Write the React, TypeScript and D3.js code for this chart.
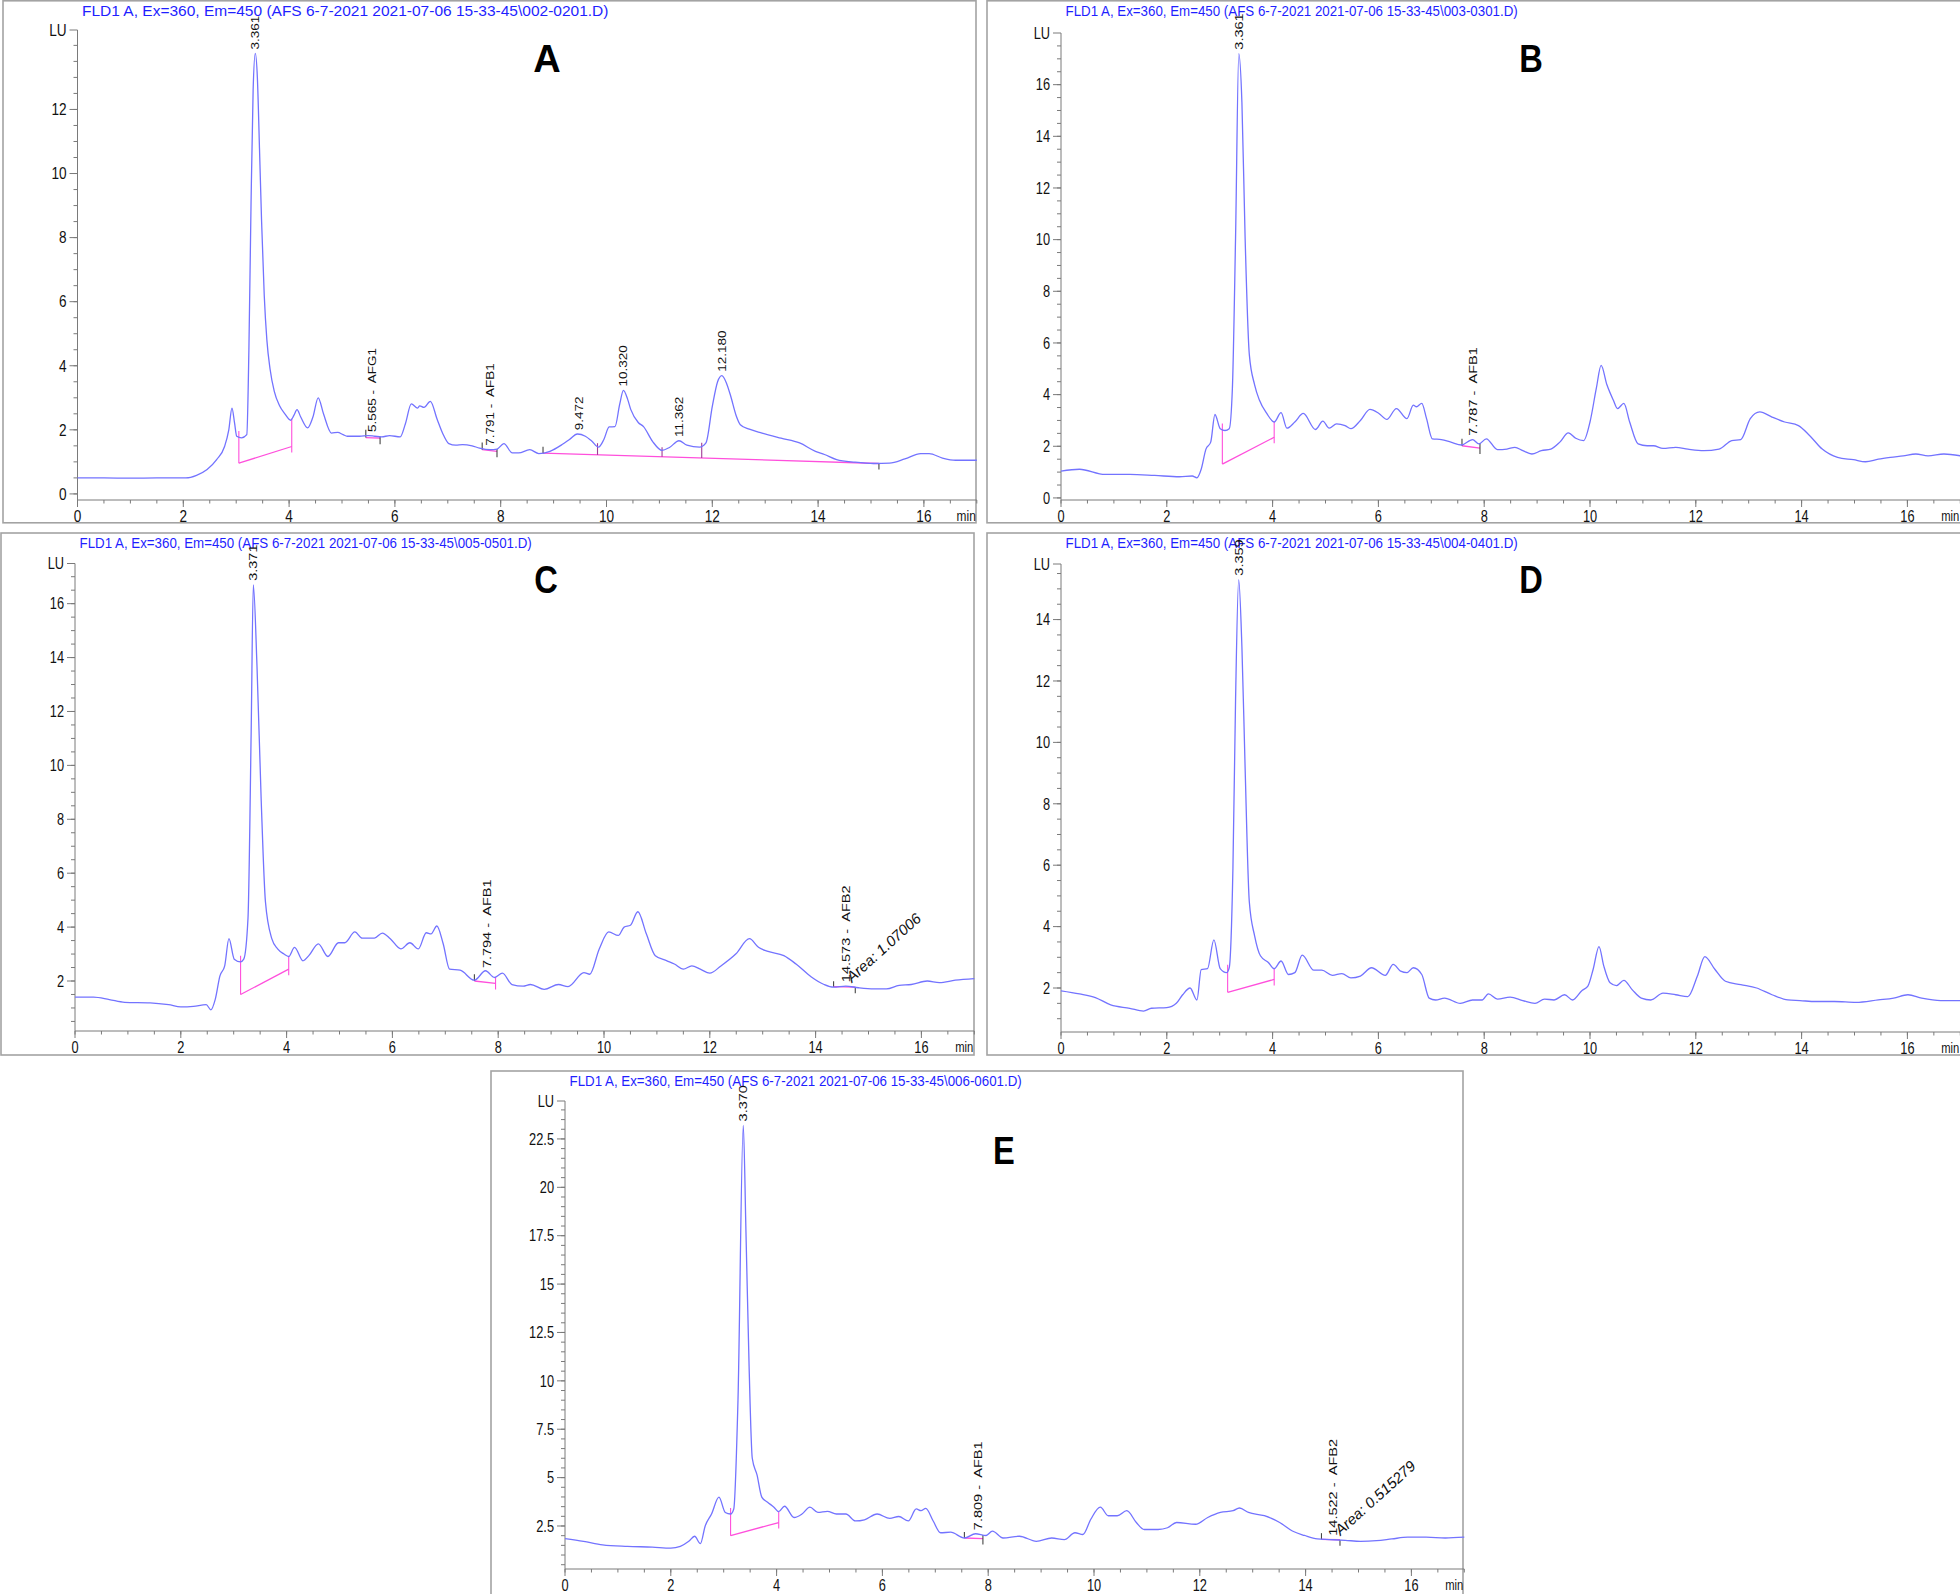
import React from 'react'
import * as d3 from 'd3'

// ---- data: retention time (min) and signal (LU) per run ----
const timeA = [0, 0.5, 1.0, 1.5, 2.05, 2.25, 2.45, 2.63, 2.78, 2.86, 2.92, 2.97, 3.01, 3.1, 3.2, 3.24, 3.28, 3.32, 3.361, 3.4, 3.44, 3.48, 3.53, 3.58, 3.64, 3.72, 3.82, 3.92, 4.03, 4.09, 4.15, 4.22, 4.35, 4.45, 4.55, 4.65, 4.8, 4.92, 5.02, 5.1, 5.33, 5.5, 5.62, 5.75, 5.9, 6.1, 6.2, 6.31, 6.43, 6.47, 6.55, 6.67, 6.8, 6.9, 7.02, 7.15, 7.28, 7.46, 7.6, 7.8, 7.93, 8.06, 8.22, 8.34, 8.55, 8.72, 8.93, 9.16, 9.3, 9.45, 9.6, 9.72, 9.85, 9.95, 10.05, 10.16, 10.25, 10.32, 10.4, 10.46, 10.6, 10.7, 10.87, 11.05, 11.19, 11.37, 11.52, 11.76, 11.88, 12.0, 12.1, 12.18, 12.27, 12.35, 12.45, 12.53, 12.7, 12.94, 13.3, 13.65, 13.95, 14.12, 14.35, 14.7, 15.05, 15.35, 15.64, 15.94, 16.1, 16.35, 16.6, 17.0]
const luA = [0.5, 0.5, 0.49, 0.5, 0.5, 0.58, 0.76, 1.07, 1.48, 2.0, 2.68, 2.2, 1.8, 1.75, 1.85, 4.5, 9.0, 12.6, 13.75, 13.0, 10.8, 8.5, 6.2, 4.8, 3.9, 3.2, 2.75, 2.5, 2.3, 2.45, 2.63, 2.4, 2.06, 2.4, 3.0, 2.5, 1.9, 1.92, 1.85, 1.8, 1.8, 1.82, 1.8, 1.78, 1.82, 1.78, 2.2, 2.81, 2.68, 2.75, 2.7, 2.89, 2.32, 1.9, 1.57, 1.52, 1.54, 1.5, 1.43, 1.38, 1.4, 1.57, 1.28, 1.28, 1.38, 1.26, 1.33, 1.54, 1.7, 1.87, 1.8, 1.65, 1.46, 1.7, 2.09, 2.1, 2.8, 3.23, 2.95, 2.63, 2.23, 2.1, 1.64, 1.36, 1.45, 1.66, 1.52, 1.46, 1.59, 2.73, 3.5, 3.69, 3.45, 3.04, 2.45, 2.16, 2.02, 1.9, 1.74, 1.59, 1.33, 1.23, 1.07, 0.99, 0.95, 0.96, 1.09, 1.26, 1.26, 1.12, 1.05, 1.05]

const timeB = [0, 0.35, 0.83, 1.3, 1.77, 2.24, 2.48, 2.57, 2.65, 2.74, 2.83, 2.91, 3.01, 3.1, 3.18, 3.24, 3.3, 3.361, 3.42, 3.48, 3.56, 3.66, 3.75, 3.89, 4.03, 4.16, 4.27, 4.42, 4.58, 4.81, 4.95, 5.07, 5.21, 5.37, 5.48, 5.66, 5.84, 6.01, 6.16, 6.34, 6.54, 6.66, 6.72, 6.82, 6.91, 7.02, 7.19, 7.37, 7.57, 7.78, 7.9, 8.04, 8.25, 8.43, 8.58, 8.73, 8.9, 9.08, 9.26, 9.43, 9.59, 9.73, 9.88, 10.0, 10.12, 10.21, 10.32, 10.44, 10.52, 10.64, 10.75, 10.91, 11.08, 11.2, 11.38, 11.62, 11.85, 12.15, 12.44, 12.68, 12.85, 13.03, 13.21, 13.44, 13.68, 13.94, 14.15, 14.39, 14.68, 14.98, 15.21, 15.45, 15.68, 15.92, 16.16, 16.39, 16.69, 17.0]
const luB = [1.04, 1.11, 0.91, 0.91, 0.87, 0.82, 0.85, 0.78, 1.11, 1.89, 2.16, 3.23, 2.68, 2.61, 2.68, 4.25, 10.1, 17.2, 15.3, 10.1, 5.55, 4.38, 3.79, 3.27, 2.94, 3.3, 2.7, 2.94, 3.27, 2.65, 2.97, 2.7, 2.87, 2.8, 2.68, 3.0, 3.43, 3.27, 3.04, 3.46, 3.07, 3.59, 3.53, 3.66, 3.07, 2.29, 2.26, 2.16, 2.05, 2.26, 2.09, 2.29, 1.87, 1.89, 1.96, 1.83, 1.7, 1.83, 1.89, 2.16, 2.52, 2.31, 2.22, 2.94, 4.25, 5.13, 4.38, 3.79, 3.46, 3.66, 2.94, 2.09, 2.02, 2.02, 1.92, 1.96, 1.89, 1.83, 1.89, 2.22, 2.26, 3.07, 3.33, 3.13, 2.94, 2.8, 2.42, 1.89, 1.57, 1.48, 1.4, 1.5, 1.57, 1.63, 1.7, 1.63, 1.7, 1.63]

const timeC = [0, 0.35, 0.65, 0.94, 1.42, 1.77, 2.0, 2.24, 2.48, 2.57, 2.65, 2.74, 2.83, 2.91, 3.01, 3.13, 3.19, 3.27, 3.33, 3.371, 3.44, 3.52, 3.6, 3.72, 3.83, 3.95, 4.04, 4.15, 4.31, 4.42, 4.6, 4.78, 4.98, 5.1, 5.29, 5.43, 5.66, 5.81, 5.96, 6.16, 6.33, 6.49, 6.64, 6.73, 6.84, 6.96, 7.08, 7.28, 7.55, 7.76, 7.93, 8.08, 8.26, 8.47, 8.61, 8.87, 9.14, 9.32, 9.62, 9.73, 9.91, 10.09, 10.27, 10.38, 10.5, 10.64, 10.8, 10.97, 11.19, 11.33, 11.5, 11.66, 11.82, 12.0, 12.21, 12.49, 12.75, 12.92, 13.1, 13.4, 13.63, 13.92, 14.16, 14.34, 14.57, 14.81, 15.1, 15.34, 15.58, 15.81, 16.11, 16.34, 16.64, 17.0]
const luC = [1.4, 1.4, 1.31, 1.21, 1.19, 1.12, 1.04, 1.06, 1.12, 0.93, 1.31, 2.19, 2.56, 3.57, 2.81, 2.71, 2.81, 4.32, 11.2, 16.7, 13.7, 8.7, 4.94, 3.57, 3.19, 3.0, 2.91, 3.25, 2.75, 2.94, 3.38, 2.91, 3.42, 3.42, 3.82, 3.59, 3.59, 3.78, 3.57, 3.19, 3.42, 3.19, 3.79, 3.75, 4.04, 3.38, 2.44, 2.4, 2.03, 2.38, 2.13, 2.29, 1.87, 1.81, 1.87, 1.69, 1.87, 1.79, 2.31, 2.25, 3.19, 3.82, 3.69, 4.0, 4.07, 4.57, 3.75, 2.94, 2.75, 2.63, 2.44, 2.56, 2.44, 2.29, 2.56, 3.0, 3.57, 3.25, 3.1, 2.94, 2.63, 2.15, 1.87, 1.77, 1.81, 1.75, 1.71, 1.71, 1.84, 1.87, 2.0, 1.94, 2.03, 2.09]

const timeD = [0, 0.35, 0.65, 0.94, 1.3, 1.56, 1.71, 2.0, 2.18, 2.3, 2.44, 2.57, 2.65, 2.77, 2.89, 3.01, 3.13, 3.18, 3.25, 3.3, 3.359, 3.42, 3.48, 3.56, 3.66, 3.77, 3.92, 4.03, 4.16, 4.3, 4.42, 4.56, 4.78, 4.93, 5.13, 5.31, 5.48, 5.66, 5.87, 6.13, 6.28, 6.42, 6.54, 6.66, 6.82, 6.96, 7.08, 7.25, 7.55, 7.78, 7.96, 8.08, 8.25, 8.49, 8.73, 8.96, 9.14, 9.32, 9.52, 9.67, 9.85, 9.96, 10.06, 10.17, 10.26, 10.38, 10.5, 10.64, 10.8, 10.97, 11.15, 11.38, 11.62, 11.85, 12.03, 12.17, 12.36, 12.56, 12.85, 13.15, 13.44, 13.74, 13.97, 14.27, 14.62, 15.03, 15.45, 15.74, 16.01, 16.27, 16.63, 17.0]
const luD = [1.91, 1.81, 1.69, 1.45, 1.34, 1.25, 1.34, 1.36, 1.5, 1.78, 2.0, 1.61, 2.6, 2.63, 3.57, 2.63, 2.5, 2.66, 5.9, 11.4, 15.3, 13.1, 9.2, 4.8, 3.7, 3.05, 2.83, 2.63, 2.88, 2.44, 2.5, 3.07, 2.58, 2.58, 2.41, 2.47, 2.33, 2.39, 2.66, 2.41, 2.77, 2.55, 2.5, 2.66, 2.44, 1.67, 1.61, 1.67, 1.5, 1.61, 1.61, 1.81, 1.64, 1.7, 1.59, 1.5, 1.64, 1.61, 1.78, 1.61, 1.92, 2.06, 2.61, 3.35, 2.72, 2.17, 2.08, 2.25, 1.94, 1.67, 1.61, 1.83, 1.78, 1.72, 2.39, 3.02, 2.61, 2.22, 2.11, 2.0, 1.78, 1.61, 1.59, 1.56, 1.56, 1.53, 1.61, 1.67, 1.78, 1.67, 1.59, 1.59]

const timeE = [0, 0.35, 0.71, 1.18, 1.65, 2.0, 2.18, 2.34, 2.45, 2.56, 2.65, 2.77, 2.91, 3.03, 3.13, 3.19, 3.27, 3.37, 3.42, 3.48, 3.54, 3.63, 3.72, 3.83, 3.95, 4.04, 4.15, 4.33, 4.48, 4.63, 4.78, 4.96, 5.13, 5.31, 5.49, 5.66, 5.9, 6.14, 6.31, 6.49, 6.64, 6.73, 6.82, 6.96, 7.1, 7.29, 7.55, 7.76, 7.96, 8.08, 8.28, 8.59, 8.91, 9.2, 9.44, 9.64, 9.79, 9.94, 10.12, 10.27, 10.44, 10.62, 10.8, 10.95, 11.21, 11.39, 11.56, 11.92, 12.15, 12.39, 12.63, 12.75, 12.92, 13.22, 13.51, 13.75, 13.98, 14.22, 14.45, 14.75, 15.04, 15.34, 15.63, 15.93, 16.28, 16.64, 17.0]
const luE = [1.85, 1.71, 1.53, 1.45, 1.41, 1.36, 1.45, 1.71, 1.97, 1.59, 2.5, 3.12, 3.99, 3.2, 3.12, 3.38, 9.0, 23.2, 17.8, 10.76, 6.0, 5.14, 3.99, 3.73, 3.47, 3.24, 3.52, 2.94, 3.12, 3.47, 3.2, 3.26, 3.12, 3.12, 2.76, 2.82, 3.12, 2.89, 2.99, 2.76, 3.38, 3.29, 3.41, 2.76, 2.15, 2.18, 1.88, 2.1, 2.01, 2.24, 1.88, 1.97, 1.71, 1.88, 1.8, 2.15, 2.06, 2.85, 3.47, 3.03, 3.03, 3.29, 2.68, 2.32, 2.32, 2.41, 2.68, 2.59, 2.94, 3.2, 3.29, 3.43, 3.2, 3.03, 2.68, 2.24, 2.01, 1.83, 1.8, 1.76, 1.71, 1.74, 1.83, 1.92, 1.92, 1.88, 1.92]

// peak annotations: [retention time, label]
const peaksA: [number, string][] = [[3.361, '3.361'], [5.565, '5.565 -  AFG1'], [7.791, '7.791 -  AFB1'], [9.472, '9.472'], [10.32, '10.320'], [11.362, '11.362'], [12.18, '12.180']]
const peaksB: [number, string][] = [[3.361, '3.361'], [7.787, '7.787 -  AFB1']]
const peaksC: [number, string][] = [[3.371, '3.371'], [7.794, '7.794 -  AFB1'], [14.573, '14.573 -  AFB2']]
const peaksD: [number, string][] = [[3.359, '3.359']]
const peaksE: [number, string][] = [[3.37, '3.370'], [7.809, '7.809 -  AFB1'], [14.522, '14.522 -  AFB2']]

// area notes: [time, text]
const areaC: [number, string][] = [[14.69, 'Area: 1.07006']]
const areaE: [number, string][] = [[14.66, 'Area: 0.515279']]

// integration baselines: [t1, v1, t2, v2]
const baseA = [[3.05, 0.96, 4.05, 1.48], [5.45, 1.76, 5.72, 1.74], [7.65, 1.38, 7.93, 1.33], [8.8, 1.27, 15.15, 0.95]]
const baseB = [[3.05, 1.31, 4.03, 2.35], [7.58, 2.02, 7.92, 1.93]]
const baseC = [[3.13, 1.5, 4.04, 2.44], [7.55, 2.0, 7.95, 1.91], [14.34, 1.79, 14.75, 1.77]]
const baseD = [[3.15, 1.86, 4.03, 2.28]]
const baseE = [[3.13, 2.0, 4.04, 2.68], [7.55, 1.88, 7.9, 1.85], [14.3, 1.81, 14.65, 1.79]]
// drop lines from the trace down to a baseline (times)
const dropA = [9.83, 11.05, 11.8]

const yLabelsA = [0, 2, 4, 6, 8, 10, 12]
const yLabelsB = [0, 2, 4, 6, 8, 10, 12, 14, 16]
const yLabelsC = [2, 4, 6, 8, 10, 12, 14, 16]
const yLabelsD = [2, 4, 6, 8, 10, 12, 14]
const yLabelsE = [2.5, 5, 7.5, 10, 12.5, 15, 17.5, 20, 22.5]
const xLabels = [0, 2, 4, 6, 8, 10, 12, 14, 16]

const TITLE = 'FLD1 A, Ex=360, Em=450 (AFS 6-7-2021 2021-07-06 15-33-45\\'
const FONT = "'Liberation Sans', Arial, sans-serif"
const TRACE = '#7373ff'
const BASE = '#ff4fdc'
const AXIS = '#7a7a7a'

interface PanelProps {
  letter: string
  file: string
  box: [number, number, number, number]
  x0: number
  axisY: number
  topY: number
  yDom: [number, number]
  yLabels: number[]
  times: number[]
  values: number[]
  peaks: [number, string][]
  areas?: [number, string][]
  bases: number[][]
  drops?: number[]
  letterPos: [number, number]
  squeeze: number      // horizontal text squeeze of the scanned panel
  titleSqueeze: number
  peakSize: number
}

const PX_PER_MIN = 52.9

function valueAt(times: number[], values: number[], t: number) {
  const i = Math.max(1, Math.min(times.length - 1, d3.bisectLeft(times, t)))
  const t0 = times[i - 1], t1 = times[i]
  const f = (t - t0) / (t1 - t0)
  return values[i - 1] + (values[i] - values[i - 1]) * f
}

// text drawn with a horizontal squeeze around its anchor point
function SText({ x, y, sx, size, anchor = 'start', children, fill = '#111', weight }: {
  x: number, y: number, sx: number, size: number, anchor?: string, children: React.ReactNode, fill?: string, weight?: string
}) {
  return (
    <text transform={`translate(${x},${y}) scale(${sx},1)`} dy="0.36em" textAnchor={anchor}
      fontFamily={FONT} fontSize={size} fill={fill} fontWeight={weight}>{children}</text>
  )
}

function Panel(p: PanelProps) {
  const x = d3.scaleLinear().domain([0, 17]).range([p.x0, p.x0 + 17 * PX_PER_MIN])
  const y = d3.scaleLinear().domain(p.yDom).range([p.axisY, p.topY])
  const pts = p.times.map((t, i) => [t, p.values[i]] as [number, number])
  const line = d3.line<[number, number]>().x(d => x(d[0])).y(d => y(d[1])).curve(d3.curveMonotoneX)

  const yMinor = d3.range(Math.ceil(p.yDom[0] * 2) / 2, p.yDom[1] - 0.05, 0.5)
  const xMinor = d3.range(0, 17.01, 0.5)
  const [bx, by, bw, bh] = p.box
  const xEnd = x(17)
  const sq = p.squeeze

  return (
    <g>
      <rect x={bx} y={by} width={bw} height={bh} fill="white" stroke="#a3a3a3" strokeWidth={1.6} />
      <text transform={`translate(${p.x0 + 4.5},${by + 15}) scale(${p.titleSqueeze},1)`}
        fontFamily={FONT} fontSize={15.5} fill="#1f1fff">{TITLE + p.file + ')'}</text>
      <text transform={`translate(${p.letterPos[0]},${p.letterPos[1]}) scale(${p.titleSqueeze},1)`} textAnchor="middle"
        fontFamily={FONT} fontSize={38} fontWeight="bold" fill="#000">{p.letter}</text>

      {/* y axis */}
      <line x1={p.x0} x2={p.x0} y1={p.topY} y2={p.axisY} stroke={AXIS} />
      <line x1={p.x0 - 8} x2={p.x0} y1={p.topY} y2={p.topY} stroke={AXIS} />
      <SText x={p.x0 - 11} y={p.topY} sx={sq} size={16} anchor="end">LU</SText>
      {yMinor.map(v => (
        <line key={'ym' + v} x1={p.x0 - 4} x2={p.x0} y1={y(v)} y2={y(v)} stroke={AXIS} />
      ))}
      {p.yLabels.map(v => (
        <g key={'yl' + v}>
          <line x1={p.x0 - 8} x2={p.x0} y1={y(v)} y2={y(v)} stroke={AXIS} />
          <SText x={p.x0 - 11} y={y(v)} sx={sq} size={16} anchor="end">{v}</SText>
        </g>
      ))}

      {/* x axis */}
      <line x1={p.x0} x2={xEnd} y1={p.axisY} y2={p.axisY} stroke={AXIS} />
      {xMinor.map(v => (
        <line key={'xm' + v} x1={x(v)} x2={x(v)} y1={p.axisY} y2={p.axisY + 3.5} stroke={AXIS} />
      ))}
      {xLabels.map(v => (
        <g key={'xl' + v}>
          <line x1={x(v)} x2={x(v)} y1={p.axisY} y2={p.axisY + 7} stroke={AXIS} />
          <SText x={x(v)} y={p.axisY + 16} sx={sq} size={16} anchor="middle">{v}</SText>
        </g>
      ))}
      <SText x={xEnd - 1} y={p.axisY + 16} sx={sq} size={14} anchor="end">min</SText>

      {/* integration baselines */}
      {p.bases.map((b, i) => {
        const topStart = valueAt(p.times, p.values, b[0])
        const topEnd = valueAt(p.times, p.values, b[2])
        return (
          <g key={'b' + i}>
            <line x1={x(b[0])} x2={x(b[2])} y1={y(b[1])} y2={y(b[3])} stroke={BASE} strokeWidth={1.3} />
            <line x1={x(b[0])} x2={x(b[0])} y1={y(topStart) - 6} y2={y(b[1])} stroke={topStart - b[1] > 0.2 ? BASE : '#444'} strokeWidth={1.1} />
            <line x1={x(b[2])} x2={x(b[2])} y1={y(topEnd)} y2={y(b[3]) + 6} stroke={topEnd - b[3] > 0.2 ? BASE : '#444'} strokeWidth={1.1} />
          </g>
        )
      })}
      {(p.drops || []).map(t => {
        const b = p.bases.find(s => s[0] <= t && s[2] >= t)!
        const v0 = b[1] + (b[3] - b[1]) * (t - b[0]) / (b[2] - b[0])
        return <line key={'d' + t} x1={x(t)} x2={x(t)} y1={y(valueAt(p.times, p.values, t)) - 3} y2={y(v0)} stroke="#a03a96" strokeWidth={1.1} />
      })}

      <path d={line(pts) || ''} fill="none" stroke={TRACE} strokeWidth={1.3} />

      {p.peaks.map(([t, label]) => {
        const px = x(t)
        const py = y(valueAt(p.times, p.values, t)) - 4
        return (
          <text key={'p' + t} transform={`translate(${px},${py}) rotate(-90) scale(1,${sq})`} dy="0.35em"
            fontFamily={FONT} fontSize={p.peakSize} fill="#111" style={{ whiteSpace: 'pre' }}>{label}</text>
        )
      })}
      {(p.areas || []).map(([t, label]) => {
        const px = x(t)
        const py = y(valueAt(p.times, p.values, t)) - 4
        return (
          <text key={'a' + t} transform={`translate(${px},${py}) rotate(-42)`}
            fontFamily={FONT} fontSize={15} fontStyle="italic" fill="#111">{label}</text>
        )
      })}
    </g>
  )
}

export default function App() {
  return (
    <svg width={1960} height={1594} style={{ position: 'absolute', left: 0, top: 0, background: 'white' }}>
      <rect width={1960} height={1594} fill="white" />
      <Panel letter="A" file="002-0201.D" box={[3, 0.8, 973, 522]} x0={77.5} axisY={500} topY={30}
        yDom={[-0.19, 14.48]} yLabels={yLabelsA} times={timeA} values={luA} peaks={peaksA}
        bases={baseA} drops={dropA} letterPos={[547, 72]} squeeze={0.85} titleSqueeze={1} peakSize={13.5} />
      <Panel letter="B" file="003-0301.D" box={[987, 0.8, 980, 522]} x0={1061} axisY={500} topY={33}
        yDom={[-0.08, 18]} yLabels={yLabelsB} times={timeB} values={luB} peaks={peaksB}
        bases={baseB} letterPos={[1531, 72]} squeeze={0.8} titleSqueeze={0.86} peakSize={14.5} />
      <Panel letter="C" file="005-0501.D" box={[1, 533, 973, 522]} x0={75} axisY={1031} topY={563.5}
        yDom={[0.145, 17.49]} yLabels={yLabelsC} times={timeC} values={luC} peaks={peaksC} areas={areaC}
        bases={baseC} letterPos={[546, 593]} squeeze={0.8} titleSqueeze={0.86} peakSize={14.5} />
      <Panel letter="D" file="004-0401.D" box={[987, 533, 980, 522]} x0={1061} axisY={1032} topY={564}
        yDom={[0.567, 15.81]} yLabels={yLabelsD} times={timeD} values={luD} peaks={peaksD}
        bases={baseD} letterPos={[1531, 593]} squeeze={0.8} titleSqueeze={0.86} peakSize={14.5} />
      <Panel letter="E" file="006-0601.D" box={[491, 1071, 972, 530]} x0={565} axisY={1569} topY={1101}
        yDom={[0.278, 24.46]} yLabels={yLabelsE} times={timeE} values={luE} peaks={peaksE} areas={areaE}
        bases={baseE} letterPos={[1004, 1164]} squeeze={0.8} titleSqueeze={0.86} peakSize={14.5} />
    </svg>
  )
}
